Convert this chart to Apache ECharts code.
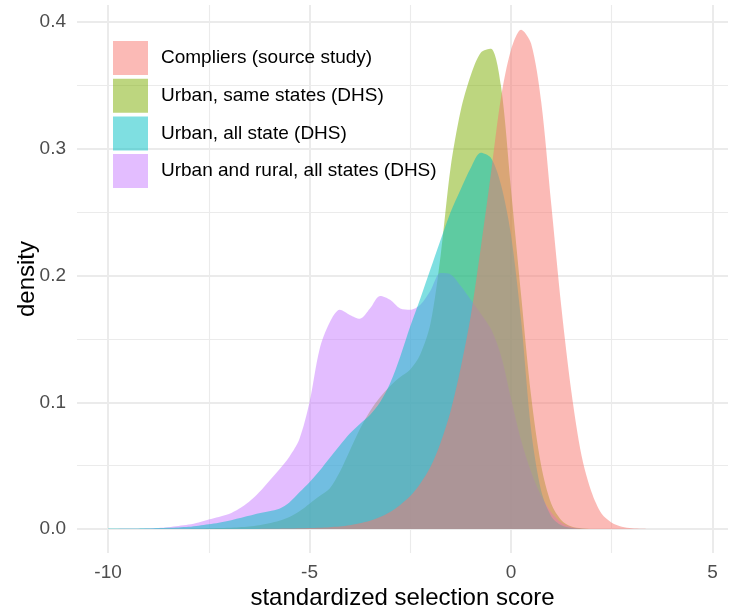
<!DOCTYPE html>
<html>
<head>
<meta charset="utf-8">
<script src="https://cdn.jsdelivr.net/npm/echarts@6/dist/echarts.min.js"></script>
<style>
html,body{margin:0;padding:0;background:#fff;}
#chart{width:730px;height:611px;}
</style>
</head>
<body>
<div id="chart"></div>
<script>
// shared x grid (standardized selection score)
const xs = [-10,-9.75,-9.5,-9.25,-9,-8.75,-8.5,-8.25,-8,-7.75,
  -7.5,-7.25,-7,-6.75,-6.5,-6.25,-6,-5.75,-5.5,-5.25,
  -5,-4.75,-4.5,-4.25,-4,-3.75,-3.5,-3.25,-3,-2.75,
  -2.5,-2.25,-2,-1.75,-1.5,-1.25,-1,-0.75,-0.5,-0.25,
  0,0.25,0.5,0.75,1,1.25,1.5,1.75,2,2.25,
  2.5,2.75,3,3.25,3.5];

const seriesNames = ["Compliers (source study)", "Urban, same states (DHS)", "Urban, all state (DHS)", "Urban and rural, all states (DHS)"];

const compliers = [0,0,0,0,0,0,0,0,0,0,
  0,0,0,0,0.0001,0.0001,0.0002,0.0003,0.0004,0.0006,
  0.0008,0.0011,0.0015,0.002,0.003,0.0045,0.0065,0.0095,0.0135,0.019,
  0.026,0.036,0.049,0.068,0.093,0.127,0.168,0.222,0.28,0.34,
  0.378,0.394,0.383,0.337,0.256,0.175,0.108,0.058,0.029,0.012,
  0.005,0.0018,0.0006,0.0002,0];

const urbanSame = [0,0,0,0,0.0001,0.0001,0.0002,0.0002,0.0003,0.0004,
  0.0006,0.0008,0.001,0.0014,0.002,0.003,0.0045,0.0065,0.0095,0.014,
  0.02,0.026,0.032,0.045,0.062,0.079,0.093,0.104,0.113,0.12,
  0.126,0.138,0.162,0.215,0.285,0.33,0.358,0.376,0.379,0.35,
  0.268,0.185,0.105,0.05,0.02,0.007,0.002,0.0005,0.0001,0,
  0,0,0,0,0];

const urbanAll = [0.0004,0.0004,0.0005,0.0005,0.0006,0.0008,0.001,0.0013,0.0018,0.0027,
  0.0038,0.005,0.0065,0.0085,0.0105,0.0125,0.014,0.016,0.021,0.029,
  0.037,0.046,0.056,0.066,0.0755,0.083,0.09,0.1,0.115,0.136,
  0.16,0.182,0.205,0.228,0.25,0.268,0.285,0.297,0.293,0.272,
  0.232,0.165,0.078,0.03,0.01,0.003,0.0008,0.0002,0,0,
  0,0,0,0,0];

const urbanRural = [0.0001,0.0001,0.0002,0.0003,0.0005,0.0009,0.0015,0.0024,0.0035,0.0052,
  0.0075,0.0095,0.0118,0.016,0.0215,0.029,0.038,0.047,0.057,0.071,
  0.1,0.142,0.163,0.173,0.169,0.166,0.174,0.184,0.181,0.174,
  0.173,0.177,0.188,0.202,0.201,0.192,0.181,0.17,0.158,0.137,
  0.103,0.07,0.045,0.026,0.013,0.005,0.0015,0.0003,0,0,
  0,0,0,0,0];

const xMajor = [-10,-5,0,5];
const xMinor = [-7.5,-2.5,2.5];
const yMajor = [0,0.1,0.2,0.3,0.4];
const yMinor = [0.05,0.15,0.25,0.35];

const colors = ['rgba(248,118,109,0.5)','rgba(124,174,0,0.5)','rgba(0,191,196,0.5)','rgba(199,124,255,0.5)'];
const valueSets = [compliers, urbanSame, urbanAll, urbanRural];
// painting order (bottom to top) as seen in the reference overlaps
const drawOrder = [1, 3, 2, 0];

const FONT = 'Liberation Sans, Arial, Helvetica, sans-serif';
const GRID = '#EBEBEB';

const chart = echarts.init(document.getElementById('chart'), null, {renderer:'canvas'});

const series = drawOrder.map((i) => ({
  name: seriesNames[i],
  type: 'line',
  xAxisIndex: 0,
  yAxisIndex: 0,
  data: xs.map((x, k) => [x, valueSets[i][k]]),
  smooth: 0.3,
  showSymbol: false,
  symbol: 'none',
  color: colors[i],
  itemStyle: {color: colors[i]},
  lineStyle: {width: 0, color: colors[i]},
  areaStyle: {color: colors[i], opacity: 1},
  silent: true,
  animation: false
}));

const option = {
  animation: false,
  backgroundColor: '#ffffff',
  grid: {left: 77, right: 2, top: 5, bottom: 58, containLabel: false, outerBoundsMode: 'none'},
  legend: {
    show: true,
    orient: 'vertical',
    left: 113,
    top: 41,
    padding: 0,
    itemWidth: 35,
    itemHeight: 34,
    itemGap: 3.7,
    icon: 'rect',
    selectedMode: false,
    textStyle: {fontFamily: FONT, fontSize: 19, color: '#000000', padding: [0,0,0,8]},
    data: seriesNames.map((n, i) => ({name: n, itemStyle: {color: colors[i], opacity: 1}}))
  },
  xAxis: [
    {
      type: 'value', min: -10.77, max: 5.385,
      name: 'standardized selection score', nameLocation: 'middle', nameGap: 33, nameMoveOverlap: false,
      nameTextStyle: {fontFamily: FONT, fontSize: 24, color: '#000000'},
      axisLine: {show: false},
      axisTick: {show: false, customValues: xMajor},
      axisLabel: {customValues: xMajor, fontFamily: FONT, fontSize: 19, color: '#4D4D4D', margin: 10},
      splitLine: {show: true, lineStyle: {color: GRID, width: 2}}
    },
    {
      type: 'value', min: -10.77, max: 5.385, position: 'bottom',
      axisLine: {show: false},
      axisTick: {show: false, customValues: xMinor},
      axisLabel: {show: false, customValues: xMinor},
      splitLine: {show: true, lineStyle: {color: GRID, width: 1.1}}
    }
  ],
  yAxis: [
    {
      type: 'value', min: -0.0189, max: 0.4136,
      name: 'density', nameLocation: 'middle', nameGap: 38, nameRotate: 90, nameMoveOverlap: false,
      nameTextStyle: {fontFamily: FONT, fontSize: 24, color: '#000000'},
      axisLine: {show: false},
      axisTick: {show: false, customValues: yMajor},
      axisLabel: {customValues: yMajor, fontFamily: FONT, fontSize: 19, color: '#4D4D4D', margin: 11,
        formatter: v => v.toFixed(1)},
      splitLine: {show: true, lineStyle: {color: GRID, width: 2}}
    },
    {
      type: 'value', min: -0.0189, max: 0.4136, position: 'left',
      axisLine: {show: false},
      axisTick: {show: false, customValues: yMinor},
      axisLabel: {show: false, customValues: yMinor},
      splitLine: {show: true, lineStyle: {color: GRID, width: 1.1}}
    }
  ],
  series: series
};
chart.setOption(option);
</script>
</body>
</html>
